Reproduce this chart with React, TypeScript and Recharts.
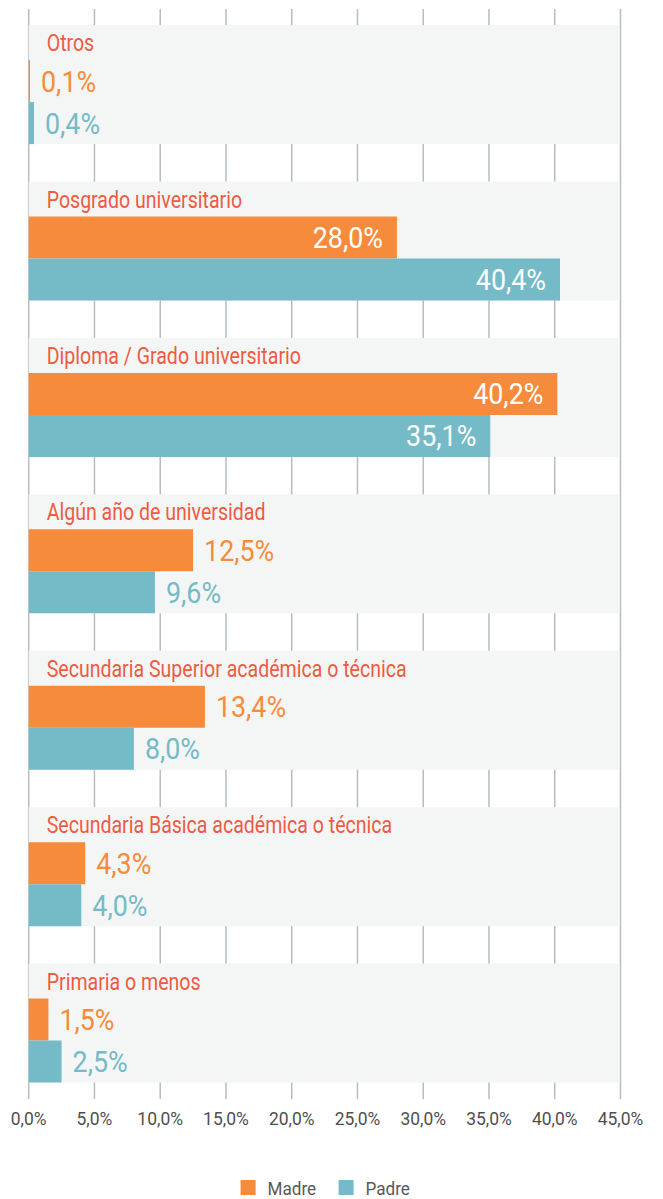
import { BarChart, Bar, XAxis, YAxis, CartesianGrid, Legend, LabelList } from "recharts";

const categories = [
  "Otros",
  "Posgrado universitario",
  "Diploma / Grado universitario",
  "Algún año de universidad",
  "Secundaria Superior académica o técnica",
  "Secundaria Básica académica o técnica",
  "Primaria o menos",
];
const madre = [0.1, 28.0, 40.2, 12.5, 13.4, 4.3, 1.5];
const padre = [0.4, 40.4, 35.1, 9.6, 8.0, 4.0, 2.5];
const xTicks = [0, 5, 10, 15, 20, 25, 30, 35, 40, 45];
const seriesNames = ["Madre", "Padre"];

const data = categories.map((name, i) => ({ name, madre: madre[i], padre: padre[i] }));

const FONT = "Roboto, sans-serif";
const ORANGE = "#f68b3b";
const TEAL = "#75bac7";
const BAND = "#f4f6f5";
const TITLE = "#ee5b43";

const fmt = (v: number) => v.toFixed(1).replace(".", ",") + "%";

// condensed look: Roboto squeezed horizontally
const NText = ({ x, y, sx, anchor = "start", fill, size, children }: any) => (
  <text
    transform={`translate(${x},${y}) scale(${sx},1)`}
    textAnchor={anchor}
    fill={fill}
    fontSize={size}
    fontFamily={FONT}
  >
    {children}
  </text>
);

// grey band behind each category: from title row down to the bottom of the second bar
const band = (p: any) => (
  <rect x={p.x} y={p.y - 35} width={p.width - 0.75} height={p.height * 2 + 35} fill={BAND} />
);

const title = (p: any) => {
  const vb = p.viewBox ?? p;
  return (
    <NText x={vb.x + 18} y={vb.y - 9} sx={0.815} fill={TITLE} size={24}>
      {p.value}
    </NText>
  );
};

const valueLabel = (color: string) => (p: any) => {
  const vb = p.viewBox ?? p;
  const v = Number(p.value);
  const inside = v > 20;
  return (
    <NText
      x={inside ? vb.x + vb.width - 14 : vb.x + vb.width + 11}
      y={vb.y + vb.height / 2 + 10.5}
      sx={0.895}
      anchor={inside ? "end" : "start"}
      fill={inside ? "#ffffff" : color}
      size={30}
    >
      {fmt(v)}
    </NText>
  );
};

const xTick = (p: any) => (
  <NText x={p.x} y={p.y + 6} sx={0.92} anchor="middle" fill="#4f4f4f" size={19}>
    {fmt(p.payload.value)}
  </NText>
);

const legend = () => {
  const colors = [ORANGE, TEAL];
  const textW = [49, 43];
  const total = textW.reduce((a, w) => a + 27 + w, 0) + 22;
  let x = 324.6 - total / 2;
  return (
    <svg width={663} height={40} style={{ display: "block" }}>
      {seriesNames.map((n, i) => {
        const x0 = x;
        x += 27 + textW[i] + 22;
        return (
          <g key={n}>
            <rect x={x0} y={21} width={15} height={15} fill={colors[i]} />
            <NText x={x0 + 27} y={35.7} sx={0.9} fill="#595959" size={19}>
              {n}
            </NText>
          </g>
        );
      })}
    </svg>
  );
};

export default function App() {
  return (
    <div style={{ position: "absolute", left: 0, top: 0, width: 663, height: 1199, background: "#fff" }}>
      <BarChart
        width={663}
        height={1199}
        data={data}
        layout="vertical"
        margin={{ top: 24.1, left: 28.7, right: 42.5, bottom: 0 }}
        barGap={0}
      >
        <CartesianGrid horizontal={false} stroke="#b8bcc0" strokeWidth={1.5} y={9} height={1090} />
        <XAxis
          type="number"
          domain={[0, 45]}
          ticks={xTicks}
          axisLine={false}
          tickLine={false}
          tickSize={0}
          tickMargin={0}
          height={40}
          tick={xTick}
          interval={0}
        />
        <YAxis type="category" dataKey="name" hide />
        <Legend verticalAlign="bottom" content={legend} wrapperStyle={{ left: 0, width: 663, height: 40 }} />
        <Bar dataKey="madre" name="Madre" fill={ORANGE} barSize={42} background={band} isAnimationActive={false}>
          <LabelList dataKey="name" content={title} />
          <LabelList dataKey="madre" content={valueLabel(ORANGE)} />
        </Bar>
        <Bar dataKey="padre" name="Padre" fill={TEAL} barSize={42} isAnimationActive={false}>
          <LabelList dataKey="padre" content={valueLabel(TEAL)} />
        </Bar>
      </BarChart>
    </div>
  );
}
